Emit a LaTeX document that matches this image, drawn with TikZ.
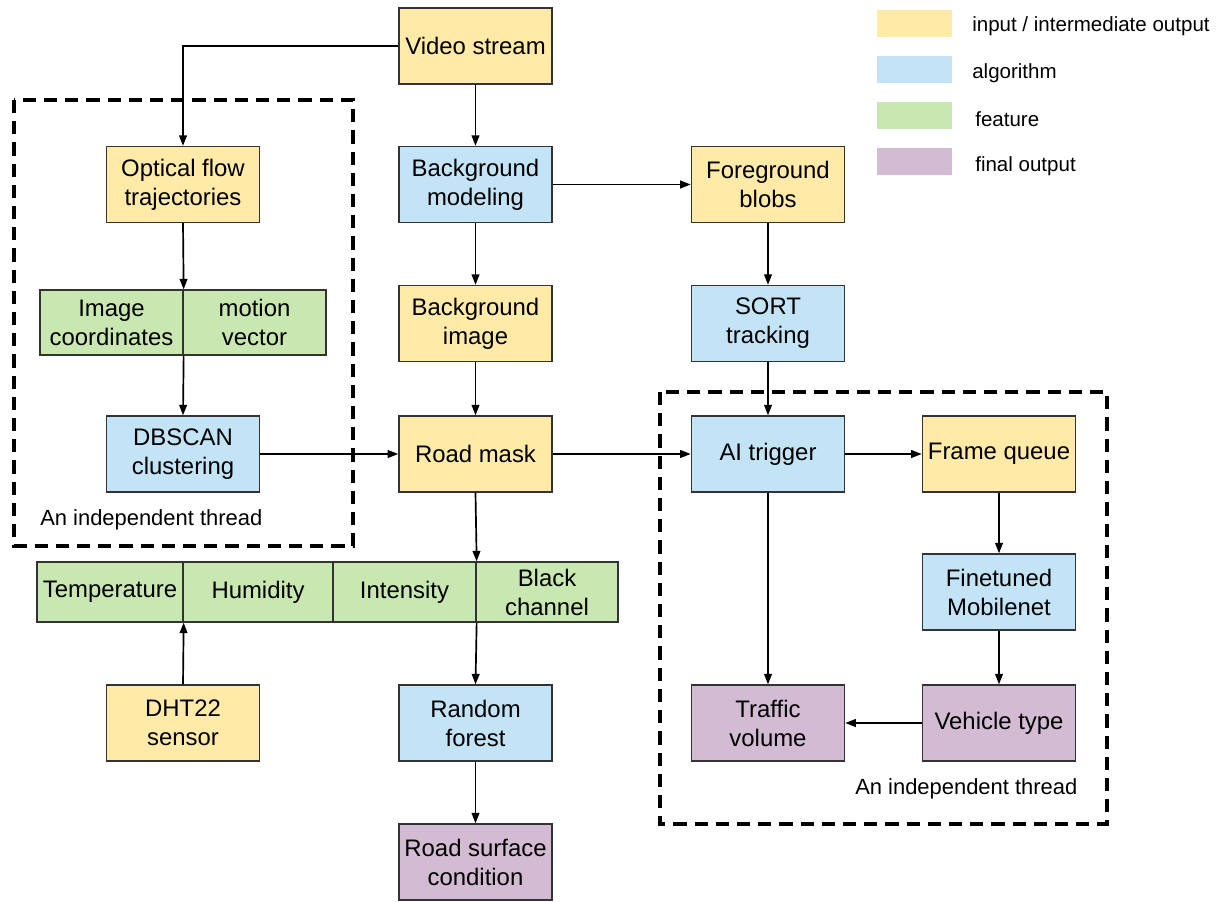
\documentclass[tikz,border=0pt]{standalone}
\usepackage{fontspec}
\setmainfont{Liberation Sans}
\usepackage{tikz}
\usetikzlibrary{arrows.meta, positioning}
\definecolor{inyellow}{HTML}{FFEAA7}
\definecolor{algoblue}{HTML}{C2E4F6}
\definecolor{featgreen}{HTML}{C9E7B0}
\definecolor{finalpurple}{HTML}{D3BBD3}
\newcommand{\boxfont}{\fontsize{17pt}{20.6pt}\selectfont}
\newcommand{\legfont}{\fontsize{14.6pt}{17pt}\selectfont}
\newcommand{\thrfont}{\fontsize{15.6pt}{18pt}\selectfont}

\begin{document}
\begin{tikzpicture}[
      x=0.025cm, y=-0.025cm,
      >={Triangle[length=7.5pt, width=5.5pt]},
      base/.style={rectangle, draw=black!80, line width=0.9pt, align=center, font=\boxfont, inner sep=0pt},
      data/.style={base, fill=inyellow, minimum width=3.83cm, minimum height=1.9cm},
      algo/.style={base, fill=algoblue, minimum width=3.83cm, minimum height=1.9cm},
      final/.style={base, fill=finalpurple, minimum width=3.83cm, minimum height=1.9cm},
      feat/.style={base, fill=featgreen, minimum height=1.5cm},
      legbox/.style={rectangle, minimum width=1.875cm, minimum height=0.675cm, inner sep=0pt},
      legtext/.style={anchor=west, font=\legfont, inner sep=0pt},
      thread/.style={draw=black, line width=2.4pt, dash pattern=on 0.33cm off 0.2cm},
      flow/.style={->, draw=black, line width=1.2pt}
  ]
      \useasboundingbox (0,0) rectangle (1221,901);

      % Main column
      \node[data] (video) at (475.5, 46) {Video stream};
      \node[algo] (bgmodel) at (475.5, 184.5) {Background\\modeling};
      \node[data] (bgimage) at (475.5, 323.5) {Background\\image};
      \node[data] (roadmask) at (475.5, 454) {Road mask};
      \node[algo] (forest) at (475.5, 723) {Random\\forest};
      \node[final] (surface) at (475.5, 862) {Road surface\\condition};

      % Optical flow thread
      \node[data] (optflow) at (183, 184.5) {Optical flow\\trajectories};
      \node[feat, minimum width=3.575cm, minimum height=1.625cm] (imgcoord) at (111.5, 322.5) {Image\\coordinates};
      \node[feat, minimum width=3.575cm, minimum height=1.625cm] (motion) at (254.5, 322.5) {motion\\vector};
      \node[algo] (dbscan) at (183, 454) {DBSCAN\\clustering};

      % Road surface features
      \node[feat, minimum width=3.65cm] (temp) at (110, 592) {Temperature};
      \node[feat, minimum width=3.75cm] (humid) at (258, 592) {Humidity};
      \node[feat, minimum width=3.575cm] (intens) at (404.5, 592) {Intensity};
      \node[feat, minimum width=3.55cm] (black) at (547, 592) {Black\\channel};
      \node[data] (dht) at (183, 723) {DHT22\\sensor};

      % Tracking and AI thread
      \node[data] (fgblobs) at (768, 184.5) {Foreground\\blobs};
      \node[algo] (sort) at (768, 323.5) {SORT\\tracking};
      \node[algo] (trigger) at (768, 454) {AI trigger};
      \node[data] (queue) at (999, 454) {Frame queue};
      \node[algo] (mobilenet) at (999, 592) {Finetuned\\Mobilenet};
      \node[final] (vehicle) at (999, 723) {Vehicle type};
      \node[final] (traffic) at (768, 723) {Traffic\\volume};

      % Thread boxes
      \draw[thread] (14,100) rectangle (353,546);
      \draw[thread] (660,392) rectangle (1107,824);
      \node[anchor=west, font=\thrfont, inner sep=0pt] (thread1) at (40, 520) {An independent thread};
      \node[anchor=west, font=\thrfont, inner sep=0pt] (thread2) at (855, 789) {An independent thread};

      % Legend
      \node[legbox, fill=inyellow] (leg1) at (914.5, 23.5) {};
      \node[legbox, fill=algoblue] (leg2) at (914.5, 69.5) {};
      \node[legbox, fill=featgreen] (leg3) at (914.5, 115.5) {};
      \node[legbox, fill=finalpurple] (leg4) at (914.5, 161.5) {};
      \node[legtext] (legt1) at (972, 26) {input / intermediate output};
      \node[legtext] (legt2) at (972, 73) {algorithm};
      \node[legtext] (legt3) at (975, 119) {feature};
      \node[legtext] (legt4) at (975, 166) {final output};

      % Connectors
      \draw[flow] (video.west) -| (optflow.north);
      \draw[flow] (video) -- (bgmodel);
      \draw[flow] (bgmodel) -- (fgblobs);
      \draw[flow] (bgmodel) -- (bgimage);
      \draw[flow] (bgimage) -- (roadmask);
      \draw[flow] (fgblobs) -- (sort);
      \draw[flow] (sort) -- (trigger);
      \draw[flow] (optflow.south) -- (imgcoord.north east);
      \draw[flow] (imgcoord.south east) -- (dbscan.north);
      \draw[flow] (dbscan) -- (roadmask);
      \draw[flow] (roadmask) -- (trigger);
      \draw[flow] (trigger) -- (queue);
      \draw[flow] (queue) -- (mobilenet);
      \draw[flow] (mobilenet) -- (vehicle);
      \draw[flow] (vehicle) -- (traffic);
      \draw[flow] (trigger) -- (traffic);
      \draw[flow] (roadmask.south) -- (intens.north east);
      \draw[flow] (intens.south east) -- (forest.north);
      \draw[flow] (dht.north) -- (temp.south east);
      \draw[flow] (forest) -- (surface);

  \end{tikzpicture}
\end{document}
